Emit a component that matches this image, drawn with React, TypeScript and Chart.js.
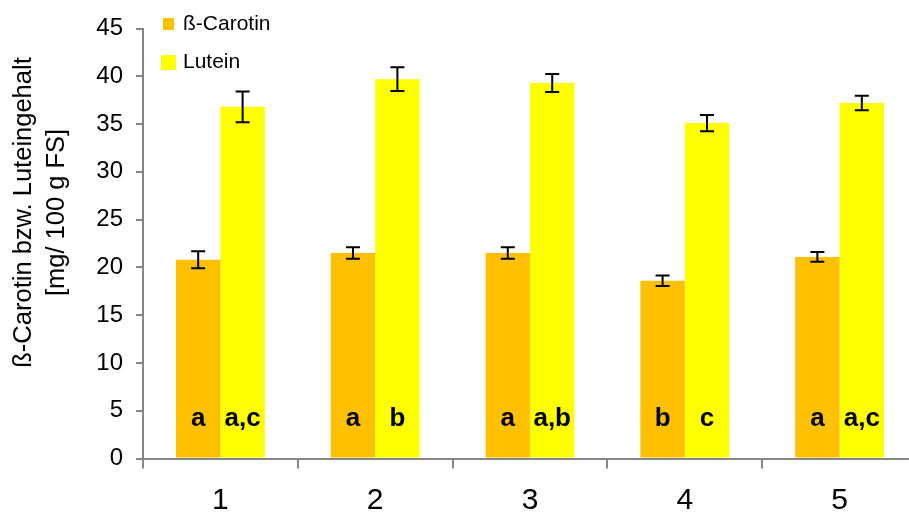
import React, { useEffect, useRef } from "react";
import { Chart, registerables } from "chart.js";

Chart.register(...registerables);

const categories = ["1", "2", "3", "4", "5"];
const caroteneValues = [20.8, 21.5, 21.5, 18.6, 21.1];
const caroteneErrors = [0.9, 0.6, 0.6, 0.55, 0.5];
const luteinValues = [36.8, 39.7, 39.3, 35.1, 37.2];
const luteinErrors = [1.6, 1.25, 0.95, 0.85, 0.75];
const caroteneLetters = ["a", "a", "a", "b", "a"];
const luteinLetters = ["a,c", "b", "a,b", "c", "a,c"];
const seriesNames = ["ß-Carotin", "Lutein"];
const yTitleLines = ["ß-Carotin bzw. Luteingehalt", "[mg/ 100 g FS]"];
const yMin = 0;
const yMax = 45;
const yStep = 5;
const letterValue = 4.2;

const ORANGE = "#FFC000";
const YELLOW = "#FFFF00";
const AXIS = "#868686";
const FONT = "'Liberation Sans', Arial, sans-serif";

const overlayPlugin = {
  id: "overlay",
  afterDatasetsDraw(chart: any) {
    const ctx = chart.ctx;
    const y = chart.scales.y;
    const errs = [caroteneErrors, luteinErrors];
    const vals = [caroteneValues, luteinValues];
    const letters = [caroteneLetters, luteinLetters];
    ctx.save();
    for (let d = 0; d < 2; d++) {
      const meta = chart.getDatasetMeta(d);
      meta.data.forEach((bar: any, i: number) => {
        const x = bar.x;
        const top = y.getPixelForValue(vals[d][i] + errs[d][i]);
        const bot = y.getPixelForValue(vals[d][i] - errs[d][i]);
        ctx.strokeStyle = "#000";
        ctx.lineWidth = 2;
        ctx.beginPath();
        ctx.moveTo(x, top);
        ctx.lineTo(x, bot);
        ctx.moveTo(x - 7, top);
        ctx.lineTo(x + 7, top);
        ctx.moveTo(x - 7, bot);
        ctx.lineTo(x + 7, bot);
        ctx.stroke();
        ctx.fillStyle = "#000";
        ctx.font = `bold 26px ${FONT}`;
        ctx.textAlign = "center";
        ctx.textBaseline = "middle";
        ctx.fillText(letters[d][i], x, y.getPixelForValue(letterValue));
      });
    }
    ctx.restore();
  },
  afterDraw(chart: any) {
    const ctx = chart.ctx;
    const area = chart.chartArea;
    ctx.save();
    // y-axis title
    const cy = (area.top + area.bottom) / 2 - 31;
    ctx.fillStyle = "#000";
    ctx.font = `25.5px ${FONT}`;
    ctx.textAlign = "center";
    ctx.textBaseline = "middle";
    const xs = [24, 57];
    yTitleLines.forEach((t, i) => {
      ctx.save();
      ctx.translate(xs[i], cy);
      ctx.rotate(-Math.PI / 2);
      ctx.fillText(t, 0, 0);
      ctx.restore();
    });
    // legend
    ctx.font = `21px ${FONT}`;
    ctx.textAlign = "left";
    ctx.fillStyle = ORANGE;
    ctx.fillRect(163, 18, 11, 12);
    ctx.fillStyle = YELLOW;
    ctx.fillRect(161, 55, 15, 15);
    ctx.fillStyle = "#000";
    ctx.fillText(seriesNames[0], 183, 24);
    ctx.fillText(seriesNames[1], 183, 62);
    ctx.restore();
  },
};

export default function App() {
  const ref = useRef<HTMLCanvasElement>(null);
  useEffect(() => {
    if (!ref.current) return;
    const chart = new Chart(ref.current, {
      type: "bar",
      data: {
        labels: categories,
        datasets: [
          { label: seriesNames[0], data: caroteneValues, backgroundColor: ORANGE, categoryPercentage: 0.574, barPercentage: 1 },
          { label: seriesNames[1], data: luteinValues, backgroundColor: YELLOW, categoryPercentage: 0.574, barPercentage: 1 },
        ],
      },
      options: {
        responsive: false,
        animation: false,
        layout: { padding: { top: 28.5, left: 0, right: 13, bottom: 0 } },
        plugins: { legend: { display: false }, tooltip: { enabled: false } },
        scales: {
          x: {
            grid: { offset: true, drawOnChartArea: false, drawTicks: true, tickLength: 10, color: AXIS, lineWidth: 2 },
            border: { color: AXIS, width: 2 },
            ticks: { color: "#000", font: { size: 30, family: FONT }, padding: 14 },
            afterFit: (s: any) => { s.height = 59.5; },
          },
          y: {
            min: yMin,
            max: yMax,
            grid: { drawOnChartArea: false, drawTicks: true, tickLength: 7, color: AXIS, lineWidth: 2 },
            border: { color: AXIS, width: 2 },
            ticks: { stepSize: yStep, color: "#000", font: { size: 24, family: FONT }, padding: 13 },
            afterFit: (s: any) => { s.width = 143; },
          },
        },
      },
      plugins: [overlayPlugin],
    });
    return () => chart.destroy();
  }, []);
  return (
    <div style={{ position: "fixed", left: 0, top: 0, width: 909, height: 518, overflow: "hidden", background: "#fff" }}>
      <canvas ref={ref} width={930} height={518} style={{ display: "block" }} />
    </div>
  );
}
